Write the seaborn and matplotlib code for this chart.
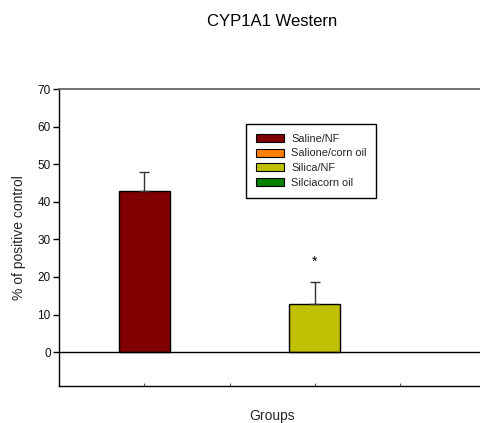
import matplotlib
matplotlib.use("Agg")
import matplotlib.pyplot as plt
import seaborn as sns
import pandas as pd
from matplotlib.patches import Patch
from matplotlib.transforms import Bbox, TransformedBbox

groups = ["Saline/NF", "Salione/corn oil", "Silica/NF", "Silciacorn oil"]
values = [42.8, 0.0, 12.9, 0.0]
errors = [5.1, 0.0, 5.8, 0.0]
colors = ["#800000", "#FF8000", "#C0C000", "#008000"]
yticks = [0, 10, 20, 30, 40, 50, 60, 70]
signif = ["", "", "*", ""]

sns.set_style("white")
plt.rcParams["font.family"] = ["Liberation Sans", "DejaVu Sans"]

fig = plt.figure(figsize=(4.8, 4.23), dpi=100)
ax = fig.add_axes([59 / 480, 1 - 386 / 423, 426.5 / 480, 297 / 423])

df = pd.DataFrame({"group": groups, "value": values})
sns.barplot(data=df, x="group", y="value", hue="group", order=groups,
            hue_order=groups, palette=colors, width=0.6, edgecolor="black",
            linewidth=1, errorbar=None, legend=False, ax=ax, saturation=1)
for p in ax.patches:
    if p.get_height() == 0:
        p.set_linewidth(0)

pos = list(range(len(groups)))
for i, (v, e) in enumerate(zip(values, errors)):
    if e > 0:
        ax.errorbar(pos[i], v, yerr=[[0], [e]], fmt="none", ecolor="#333333",
                    elinewidth=1, capsize=3.3, capthick=1, zorder=1)
    if signif[i]:
        ax.text(pos[i], v + e + 5.3, signif[i], ha="center", va="center",
                fontsize=10, color="black")

ax.axhline(0, color="black", lw=1, zorder=3)
ax.set_xlim(-1, 4)
ax.set_ylim(-9, 70)
ax.set_yticks(yticks)
ax.set_yticklabels([str(t) for t in yticks], fontsize=8.5)
ax.set_xticks(pos)
ax.set_xticklabels([""] * len(pos))
ax.tick_params(axis="y", direction="out", length=4, width=1, color="black",
               left=True, pad=2, labelcolor="#111111")
ax.tick_params(axis="x", direction="in", length=2, width=0.8, color="#555555",
               bottom=True)

ax.spines["right"].set_visible(False)
ax.spines["top"].set_color("#666666")
ax.spines["top"].set_linewidth(1.3)
ax.spines["left"].set_color("black")
ax.spines["left"].set_linewidth(1)
ax.spines["bottom"].set_color("black")
ax.spines["bottom"].set_linewidth(1)

ax.set_xlabel("Groups", fontsize=10, labelpad=13)
ax.set_ylabel("% of positive control", fontsize=10, labelpad=8)

handles = [Patch(facecolor=c, edgecolor="black", linewidth=0.8) for c in colors]
leg = ax.legend(handles, groups, loc="upper left",
                bbox_to_anchor=((246 - 59) / 426.5, (386 - 124) / 297),
                borderaxespad=0, fontsize=7.9, frameon=True, fancybox=False,
                shadow=False, handlelength=2.6, handleheight=0.75,
                handletextpad=0.6, labelspacing=0.42, borderpad=0.9)
leg.get_frame().set_edgecolor("black")
leg.get_frame().set_linewidth(1)
leg.get_frame().set_alpha(1)

t = fig.text(272 / 480, 1 - 26 / 423, "CYP1A1 Western", ha="center",
             va="baseline", fontsize=12, color="black")
t.set_clip_on(True)
t.set_clip_box(TransformedBbox(Bbox([[0, 0], [1, 1 - 14.5 / 423]]),
                               fig.transFigure))

fig.savefig("out.png", dpi=100)
